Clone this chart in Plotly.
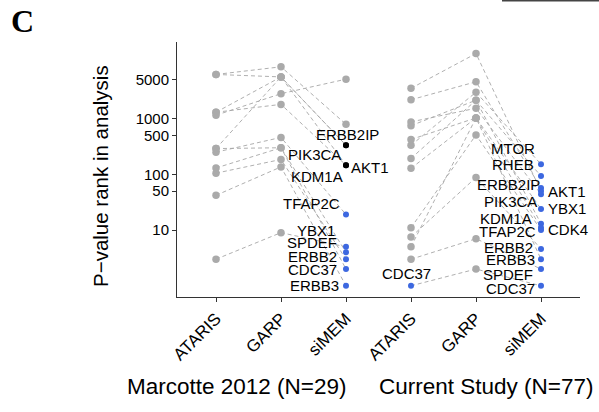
import plotly.graph_objects as go
import math

# ---------------- data (P-value ranks) ----------------
methods = ["ATARIS", "GARP", "siMEM"]
study_titles = ["Marcotte 2012 (N=29)", "Current Study (N=77)"]

marcotte_genes = ["other1", "other2", "ERBB2IP", "PIK3CA", "AKT1", "KDM1A",
                  "TFAP2C", "YBX1", "SPDEF", "ERBB2", "CDC37", "ERBB3"]
marcotte_ataris = [6200, 1150, 6200, 1300, 1300, 290, 250, 3, 130, 105, 290, 42]
marcotte_garp = [8500, 2800, 5600, 5600, 1800, 5600, 460, 9, 300, 185, 300, 136]
marcotte_simem = [790, 5100, 333, 333, 146, 146, 19, 5, 4, 3, 2, 1]

current_genes = ["MTOR", "RHEB", "ERBB2IP", "AKT1", "PIK3CA", "YBX1", "KDM1A",
                 "CDK4", "TFAP2C", "ERBB2", "ERBB3", "SPDEF", "CDC37"]
current_ataris = [333, 746, 2180, 3500, 873, 422, 193, 128, 11, 7.5, 5, 3, 1]
current_garp = [2970, 2140, 4580, 14700, 1535, 1030, 2140, 1030, 510, 88, 1030, 7, 2]
current_simem = [152, 93, 57, 50, 44, 24, 13, 11, 10, 4.6, 3, 2, 1]

y_tick_values = [10, 50, 100, 500, 1000, 5000]

# highlight groups (which siMEM hits are shown black / blue / unlabeled)
marcotte_black = ["ERBB2IP", "PIK3CA", "AKT1", "KDM1A"]
marcotte_unlabeled = ["other1", "other2"]
current_ataris_blue = ["CDC37"]

# ---------------- style / layout constants ----------------
W, H = 599, 412
L, R, T, B = 177, 19, 42, 115
GRAY_PT = "#AAAAAA"
GRAY_LN = "#A6A6A6"
BLUE = "#3D68E0"
AXIS = "#333333"
FONT = "Liberation Sans"
LABEL_SIZE = 15

# label offsets (dx, dy in px relative to the point; anchor side)
marcotte_label_pos = {
    "ERBB2IP": (34, 11, "right"), "PIK3CA": (-4, -9.5, "right"),
    "AKT1": (4, -2, "left"), "KDM1A": (-2, -11, "right"),
    "TFAP2C": (-5, 10.7, "right"), "YBX1": (-10, 16.5, "right"),
    "SPDEF": (-8, 9.7, "right"), "ERBB2": (-8, 2.3, "right"),
    "CDC37": (-8, 0, "right"), "ERBB3": (-6.5, 0, "right"),
}
current_label_pos = {
    "MTOR": (-5.5, 15.7, "right"), "RHEB": (-6.5, 11.7, "right"),
    "ERBB2IP": (-0.5, 3.3, "right"), "AKT1": (6, -0.5, "left"),
    "PIK3CA": (-3.4, -7, "right"), "YBX1": (5.5, 0, "left"),
    "KDM1A": (-8.4, 5.5, "right"), "CDK4": (6.3, -1.7, "left"),
    "TFAP2C": (-3.7, -1.7, "right"), "ERBB2": (-6.7, 1.5, "right"),
    "ERBB3": (-5, -0.3, "right"), "SPDEF": (-6.7, -5.6, "right"),
    "CDC37": (-5, -3.1, "right"),
}

fig = go.Figure()

studies = [
    (marcotte_genes, marcotte_ataris, marcotte_garp, marcotte_simem),
    (current_genes, current_ataris, current_garp, current_simem),
]

# dashed connecting lines
for si, (genes, at, ga, sm) in enumerate(studies):
    xs = [si * 3 + 1, si * 3 + 2, si * 3 + 3]
    for i, g in enumerate(genes):
        fig.add_trace(go.Scatter(
            x=xs, y=[at[i], ga[i], sm[i]], mode="lines",
            line=dict(color=GRAY_LN, width=0.9, dash="4px,3px"),
            hoverinfo="skip", showlegend=False))

# points
gx, gy, bx, by, kx, ky = [], [], [], [], [], []
for si, (genes, at, ga, sm) in enumerate(studies):
    for i, g in enumerate(genes):
        if si == 1 and g in current_ataris_blue:
            bx.append(si * 3 + 1); by.append(at[i])
        else:
            gx.append(si * 3 + 1); gy.append(at[i])
        gx.append(si * 3 + 2); gy.append(ga[i])
        if si == 0 and g in marcotte_unlabeled:
            gx.append(si * 3 + 3); gy.append(sm[i])
        elif si == 0 and g in marcotte_black:
            kx.append(si * 3 + 3); ky.append(sm[i])
        else:
            bx.append(si * 3 + 3); by.append(sm[i])

fig.add_trace(go.Scatter(x=gx, y=gy, mode="markers",
                         marker=dict(color=GRAY_PT, size=7.5, line=dict(width=0)),
                         showlegend=False, hoverinfo="skip"))
fig.add_trace(go.Scatter(x=kx, y=ky, mode="markers",
                         marker=dict(color="black", size=6, line=dict(width=0)),
                         showlegend=False, hoverinfo="skip"))
fig.add_trace(go.Scatter(x=bx, y=by, mode="markers",
                         marker=dict(color=BLUE, size=6, line=dict(width=0)),
                         showlegend=False, hoverinfo="skip"))

annotations = []


def add_label(text, x, y, dx, dy, anchor):
    annotations.append(dict(
        x=x, y=math.log10(y), xref="x", yref="y", text=text, showarrow=False,
        xanchor=anchor, yanchor="middle", xshift=dx, yshift=dy, borderpad=0,
        font=dict(family=FONT, size=LABEL_SIZE, color="black")))


for g, v in zip(marcotte_genes, marcotte_simem):
    if g in marcotte_label_pos:
        dx, dy, a = marcotte_label_pos[g]
        add_label(g, 3, v, dx, dy, a)
for g, v in zip(current_genes, current_simem):
    dx, dy, a = current_label_pos[g]
    add_label(g, 6, v, dx, dy, a)
for g, v in zip(current_genes, current_ataris):
    if g in current_ataris_blue:
        annotations.append(dict(
            x=4, y=math.log10(v), xref="x", yref="y", text=g, showarrow=False,
            xanchor="center", yanchor="middle", xshift=-5, yshift=12.7, borderpad=0,
            font=dict(family=FONT, size=LABEL_SIZE, color="black")))

pw, ph = W - L - R, H - T - B


def px(xp, yp):
    """page pixel -> paper coordinates"""
    return (xp - L) / pw, (H - B - yp) / ph


# study titles under the x axis
for title, cx in zip(study_titles, [237, 486]):
    xx, yy = px(cx, 386)
    annotations.append(dict(x=xx, y=yy, xref="paper", yref="paper", text=title,
                            showarrow=False, xanchor="center", yanchor="middle",
                            font=dict(family=FONT, size=22.5, color="black")))

# y-axis title
xx, yy = px(100, 176)
annotations.append(dict(x=xx, y=yy, xref="paper", yref="paper",
                        text="P\u2212value rank in analysis", textangle=-90,
                        showarrow=False, xanchor="center", yanchor="middle",
                        font=dict(family=FONT, size=20.5, color="black")))

# panel letter
xx, yy = px(22, 21)
annotations.append(dict(x=xx, y=yy, xref="paper", yref="paper", text="<b>C</b>",
                        showarrow=False, xanchor="center", yanchor="middle",
                        font=dict(family="Liberation Serif", size=32, color="black")))

x0, y0 = px(502, 0.8)
x1, _ = px(599, 0.8)
shapes = [dict(type="line", xref="paper", yref="paper", x0=x0, x1=x1, y0=y0, y1=y0,
               line=dict(color="#444444", width=1.5))]

fig.update_layout(
    width=W, height=H, margin=dict(l=L, r=R, t=T, b=B),
    paper_bgcolor="white", plot_bgcolor="white",
    annotations=annotations, shapes=shapes, showlegend=False,
    xaxis=dict(range=[0.4, 6.6], tickmode="array", tickvals=[1, 2, 3, 4, 5, 6],
               ticktext=methods * 2, tickangle=-45, showgrid=False, zeroline=False,
               showline=True, linecolor=AXIS, linewidth=1, ticks="outside",
               ticklen=4, tickcolor=AXIS,
               tickfont=dict(family=FONT, size=17, color="black")),
    yaxis=dict(type="log", range=[-0.2007, 4.3746], tickmode="array",
               tickvals=y_tick_values, ticktext=[str(v) for v in y_tick_values],
               showgrid=False, zeroline=False, showline=True, linecolor=AXIS,
               linewidth=1, ticks="outside", ticklen=4, tickcolor=AXIS,
               tickfont=dict(family=FONT, size=15, color="black")),
)

# remove the browser's default 8px page margin so the figure sits at (0, 0)
fig.write_html("out.html", config={"displayModeBar": False},
               post_script="document.body.style.margin='0px';")
